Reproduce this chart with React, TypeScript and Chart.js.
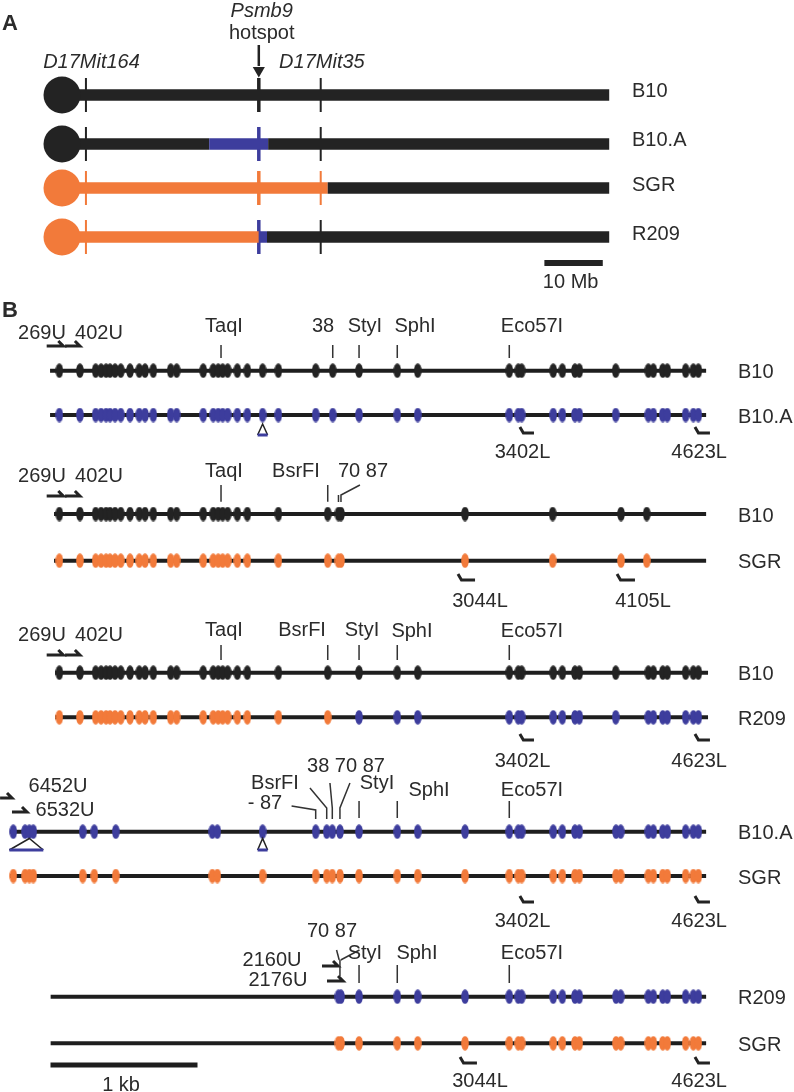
import React, { useEffect, useRef } from "react";
import { Chart, registerables } from "chart.js";
Chart.register(...registerables);

// ================= DATA =================
// ---- Panel A: chromosome 17, positions in Mb ----
const strainsA = ["B10", "B10.A", "SGR", "R209"];
const markerLabels = ["D17Mit164", "D17Mit35"];
const markerMb = [4.1, 44.3];
const hotspotMb = 33.7;
const b10SegA = [{ from: 0, to: 93.7, c: "k" }];
const b10aSegA = [{ from: 0, to: 25.2, c: "k" }, { from: 25.2, to: 35.3, c: "b" }, { from: 35.3, to: 93.7, c: "k" }];
const sgrSegA = [{ from: 0, to: 45.5, c: "o" }, { from: 45.5, to: 93.7, c: "k" }];
const r209SegA = [{ from: 0, to: 33.7, c: "o" }, { from: 33.7, to: 35.1, c: "b" }, { from: 35.1, to: 93.7, c: "k" }];
const centromereColor = ["k", "k", "o", "o"];
const mbScaleBar = [82.6, 92.6];

// ---- Panel B: sequence maps, positions in bp ----
const sitesS1 = [60, 200, 307, 344, 378, 405, 439, 478, 541, 604, 643, 699, 818, 858, 1039, 1107, 1141, 1171, 1205, 1271, 1339, 1443, 1550, 1804, 1920, 2099, 2359, 2498, 3121, 3182, 3205, 3420, 3482, 3568, 3597, 3845, 4067, 4101, 4165, 4196, 4321, 4373, 4407];
const sitesS2 = [60, 200, 307, 344, 378, 405, 439, 478, 541, 604, 643, 699, 818, 858, 1039, 1107, 1141, 1171, 1205, 1271, 1339, 1550, 1886, 1959, 1976, 2820, 3416, 3881, 4056];
const sitesS3 = [60, 200, 307, 344, 378, 405, 439, 478, 541, 604, 643, 699, 818, 858, 1039, 1107, 1141, 1171, 1205, 1271, 1339, 1550, 1886, 2099, 2359, 2498, 3121, 3182, 3205, 3420, 3482, 3568, 3597, 3845, 4067, 4101, 4165, 4196, 4321, 4373, 4407];
const sitesS4 = [-253, -173, -144, -117, 219, 298, 444, 1101, 1135, 1443, 1804, 1879, 1917, 1969, 2099, 2359, 2498, 2820, 3121, 3182, 3205, 3420, 3482, 3568, 3597, 3847, 3879, 4067, 4101, 4165, 4196, 4321, 4373, 4407];
const sitesS5 = [1959, 1976, 2099, 2359, 2498, 2820, 3121, 3182, 3205, 3420, 3482, 3568, 3597, 3847, 3879, 4067, 4101, 4165, 4196, 4321, 4373, 4407];
const lineExtentS1 = [-3, 4460];
const lineExtentS2 = [24, 4460];
const lineExtentS3 = [31, 4473];
const lineExtentS4 = [-275, 4460];
const lineExtentS5 = [1, 4460];
const r209BreakBp = 1990; // R209 row of the 3rd map: SGR-type (orange) before, B10.A-type (blue) after

const enzymeTicksS1 = [1160, 1920, 2099, 2359, 3121];
const enzymeTicksS2 = [1160, 1886];
const enzymeTicksS3 = [1160, 1886, 2099, 2359, 3121];
const enzymeTicksS4 = [2099, 2359, 3121];
const enzymeTicksS5 = [2099, 2359, 3121];

// primers: [name, fromBp, toBp, direction]
const primersS1 = [["269U", -26, 87, "U"], ["402U", 99, 200, "U"], ["3402L", 3193, 3289, "L"], ["4623L", 4384, 4486, "L"]];
const primersS2 = [["269U", -26, 87, "U"], ["402U", 99, 200, "U"], ["3044L", 2772, 2888, "L"], ["4105L", 3854, 3976, "L"]];
const primersS3 = [["269U", -26, 87, "U"], ["402U", 99, 200, "U"], ["3402L", 3193, 3289, "L"], ["4623L", 4384, 4486, "L"]];
const primersS4 = [["6452U", -343, -262, "U"], ["6532U", -262, -160, "U"], ["3402L", 3193, 3289, "L"], ["4623L", 4384, 4486, "L"]];
const primersS5 = [["2160U", 1847, 1956, "U"], ["2176U", 1881, 1990, "U"], ["3044L", 2786, 2901, "L"], ["4623L", 4384, 4486, "L"]];
const kbScaleBar = [0, 1000];

// ================= STYLE / LAYOUT =================
const COLORS: Record<string, string> = { k: "#232323", b: "#3d3d9d", o: "#f27a3a" };
const LINE = "#1e1e1e";
const TEXT = "#2b2b2b";
const FONT = "'Liberation Sans', Arial, sans-serif";
const rowYA = [95, 144, 188, 237];
const W = 794, H = 1092;
const MB_MIN = -62 / 5.84, MB_MAX = (W - 62) / 5.84;
const BP_MIN = -50.5 / 0.147, BP_MAX = (W - 50.5) / 0.147;
const BARB = 34; // bp width of primer barb

const sections = [
  { sites: [sitesS1, sitesS1], rows: [370.7, 415], ext: lineExtentS1, cols: ["k", "b"], ticks: enzymeTicksS1, tickY: [345, 358], primers: primersS1, pY: [346, 433] },
  { sites: [sitesS2, sitesS2], rows: [514, 560.7], ext: lineExtentS2, cols: ["k", "o"], ticks: enzymeTicksS2, tickY: [485, 501.7], primers: primersS2, pY: [496, 580] },
  { sites: [sitesS3, sitesS3], rows: [672.7, 717.3], ext: lineExtentS3, cols: ["k", "r209"], ticks: enzymeTicksS3, tickY: [645, 660], primers: primersS3, pY: [655, 740] },
  { sites: [sitesS4, sitesS4], rows: [831.7, 876], ext: lineExtentS4, cols: ["b", "o"], ticks: enzymeTicksS4, tickY: [801, 818], primers: primersS4, pY: [798, 902] },
  { sites: [sitesS5, sitesS5], rows: [996.7, 1043.3], ext: lineExtentS5, cols: ["b", "o"], ticks: enzymeTicksS5, tickY: [965, 983], primers: primersS5, pY: [966, 1063] },
];
const primerYOverride: Record<string, number> = { "6532U": 812, "2176U": 981 };

const rowLabels = [
  ["B10", 0, 0], ["B10.A", 0, 1], ["B10", 1, 0], ["SGR", 1, 1], ["B10", 2, 0], ["R209", 2, 1],
  ["B10.A", 3, 0], ["SGR", 3, 1], ["R209", 4, 0], ["SGR", 4, 1],
];

const leaders: number[][][] = [
  [[1959, 495], [1959, 502]], [[1976, 502], [1976, 495], [2105, 485]],
  [[1640, 806], [1804, 810], [1804, 819]], [[1765, 788], [1879, 808], [1879, 819]],
  [[1901, 783], [1917, 808], [1917, 819]], [[2037, 783], [1969, 808], [1969, 819]],
  [[1946, 950], [1964, 960]], [[2102, 950], [1974, 960]], [[1969, 960], [1969, 976]],
];
// insertion triangles: [apexBp, halfWidthBp, apexY, baseY]
const insertions = [[1443, 34, 424, 435], [-144, 0, 838.5, 850], [1443, 34, 838.5, 850]];
const bigInsertionBase = [-280, -49];

// text labels: [text, axis, x, y, align, style]
const texts: any[] = [
  ["A", "xa", -8.9, 24, "center", "bold 22px"],
  ["Psmb9", "xa", 34.2, 11, "center", "italic 20px"],
  ["hotspot", "xa", 34.2, 33, "center", "20px"],
  [markerLabels[0], "xa", 5.05, 62, "center", "italic 20px"],
  [markerLabels[1], "xa", 44.5, 62, "center", "italic 20px"],
  ["10 Mb", "xa", 87.1, 282, "center", "20px"],
  ["B", "xa", -8.9, 311, "center", "bold 22px"],
  // map 1
  ["269U", "xb", -58, 333, "center", "20px"], ["402U", "xb", 330, 333, "center", "20px"],
  ["TaqI", "xb", 1180, 326.7, "center", "20px"], ["38", "xb", 1854, 326.7, "center", "20px"],
  ["StyI", "xb", 2139, 326.7, "center", "20px"], ["SphI", "xb", 2480, 326.7, "center", "20px"],
  ["Eco57I", "xb", 3275, 326.7, "center", "20px"],
  ["3402L", "xb", 3211, 452, "center", "20px"], ["4623L", "xb", 4412, 452, "center", "20px"],
  // map 2
  ["269U", "xb", -58, 476.7, "center", "20px"], ["402U", "xb", 330, 476.7, "center", "20px"],
  ["TaqI", "xb", 1180, 471.7, "center", "20px"], ["BsrFI", "xb", 1670, 471.7, "center", "20px"],
  ["70 87", "xb", 2126, 471.7, "center", "20px"],
  ["3044L", "xb", 2922, 601.7, "center", "20px"], ["4105L", "xb", 4031, 601.7, "center", "20px"],
  // map 3
  ["269U", "xb", -58, 635, "center", "20px"], ["402U", "xb", 330, 635, "center", "20px"],
  ["TaqI", "xb", 1180, 630, "center", "20px"], ["BsrFI", "xb", 1711, 630, "center", "20px"],
  ["StyI", "xb", 2119, 630, "center", "20px"], ["SphI", "xb", 2459, 631.7, "center", "20px"],
  ["Eco57I", "xb", 3275, 631.7, "center", "20px"],
  ["3402L", "xb", 3211, 761.7, "center", "20px"], ["4623L", "xb", 4412, 761.7, "center", "20px"],
  // map 4
  ["6452U", "xb", 51, 786, "center", "20px"], ["6532U", "xb", 99, 810, "center", "20px"],
  ["BsrFI", "xb", 1527, 783, "center", "20px"], ["- 87", "xb", 1459, 803, "center", "20px"],
  ["38 70 87", "xb", 2010, 766.7, "center", "20px"], ["StyI", "xb", 2221, 783, "center", "20px"],
  ["SphI", "xb", 2575, 790, "center", "20px"], ["Eco57I", "xb", 3275, 790, "center", "20px"],
  ["3402L", "xb", 3211, 921.7, "center", "20px"], ["4623L", "xb", 4412, 921.7, "center", "20px"],
  // map 5
  ["70 87", "xb", 1915, 931.7, "center", "20px"], ["StyI", "xb", 2139, 953.3, "center", "20px"],
  ["SphI", "xb", 2493, 953, "center", "20px"], ["Eco57I", "xb", 3275, 953, "center", "20px"],
  ["2160U", "xb", 1507, 960, "center", "20px"], ["2176U", "xb", 1547, 980.7, "center", "20px"],
  ["3044L", "xb", 2922, 1081.7, "center", "20px"], ["4623L", "xb", 4412, 1081.7, "center", "20px"],
  ["1 kb", "xb", 480, 1085, "center", "20px"],
];

function ellipseImg(color: string) {
  const c = document.createElement("canvas");
  c.width = 8; c.height = 15;
  const g = c.getContext("2d")!;
  g.fillStyle = color;
  g.beginPath();
  g.ellipse(4, 7.5, 3.8, 7.3, 0, 0, Math.PI * 2);
  g.fill();
  return c;
}

function colorAt(segs: any[], m: number) {
  for (const s of segs) if (m >= s.from && m < s.to) return COLORS[s.c];
  return COLORS.k;
}

function buildDatasets() {
  const imgs: Record<string, HTMLCanvasElement> = { k: ellipseImg(COLORS.k), b: ellipseImg(COLORS.b), o: ellipseImg(COLORS.o) };
  const layers: any[] = [];
  const addLine = (axis: string, pts: number[][], color: string, width: number) =>
    layers.push({
      xAxisID: axis, yAxisID: "y", data: pts.map(([x, y]) => ({ x, y })), showLine: true,
      borderColor: color, backgroundColor: color, borderWidth: width, pointRadius: 0, pointHoverRadius: 0,
      fill: false, tension: 0, borderCapStyle: "butt", borderJoinStyle: "miter",
    });
  const addPoints = (axis: string, pts: number[][], style: any, radius: number, color: string, rotation = 0) =>
    layers.push({
      xAxisID: axis, yAxisID: "y", data: pts.map(([x, y]) => ({ x, y })), showLine: false,
      pointStyle: style, pointRadius: radius, pointHoverRadius: radius, pointRotation: rotation,
      pointBackgroundColor: color, pointBorderColor: color, pointBorderWidth: 0,
      backgroundColor: color, borderColor: color,
    });

  // Panel A
  const segsA = [b10SegA, b10aSegA, sgrSegA, r209SegA];
  segsA.forEach((segs, r) => {
    const y = rowYA[r];
    [markerMb[0], hotspotMb, markerMb[1]].forEach((m) => {
      addLine("xa", [[m, y - 17], [m, y + 17]], colorAt(segs, m), m === hotspotMb ? 3.5 : 2);
    });
    segs.forEach((s) => addLine("xa", [[s.from, y], [s.to, y]], COLORS[s.c], 11.5));
    addPoints("xa", [[0, y]], "circle", 18.5, COLORS[centromereColor[r]]);
  });
  addLine("xa", [[hotspotMb, 45], [hotspotMb, 66]], COLORS.k, 2.5);
  addPoints("xa", [[hotspotMb, 70.5]], "triangle", 7, COLORS.k, 180);
  addLine("xa", [[mbScaleBar[0], 263], [mbScaleBar[1], 263]], COLORS.k, 6);

  // Panel B
  sections.forEach((sec) => {
    sec.ticks.forEach((t) => addLine("xb", [[t, sec.tickY[0]], [t, sec.tickY[1]]], "#333", 1.5));
    sec.rows.forEach((y) => addLine("xb", [[sec.ext[0], y], [sec.ext[1], y]], LINE, 4));
    sec.primers.forEach((p: any) => {
      const [name, a, b, dir] = p;
      const y = primerYOverride[name] ?? (dir === "U" ? sec.pY[0] : sec.pY[1]);
      if (dir === "U") addLine("xb", [[a, y], [b, y], [b - BARB, y - 5]], COLORS.k, 3);
      else addLine("xb", [[a, y - 6], [a + BARB * 0.7, y], [b, y]], COLORS.k, 3);
    });
    sec.rows.forEach((y, i) => {
      const col = sec.cols[i];
      const sites = sec.sites[i];
      if (col === "r209") {
        addPoints("xb", sites.filter((s) => s < r209BreakBp).map((s) => [s, y]), imgs.o, 4, COLORS.o);
        addPoints("xb", sites.filter((s) => s >= r209BreakBp).map((s) => [s, y]), imgs.b, 4, COLORS.b);
      } else {
        addPoints("xb", sites.map((s) => [s, y]), imgs[col], 4, COLORS[col]);
      }
    });
  });
  leaders.forEach((pts) => addLine("xb", pts, "#333", 1.5));
  insertions.forEach(([apex, hw, ay, by], i) => {
    const l = i === 1 ? bigInsertionBase[0] : apex - hw;
    const r = i === 1 ? bigInsertionBase[1] : apex + hw;
    addLine("xb", [[l, by], [apex, ay], [r, by]], COLORS.k, 1.5);
    addLine("xb", [[l, by], [r, by]], COLORS.b, 3);
  });
  addLine("xb", [[kbScaleBar[0], 1065], [kbScaleBar[1], 1065]], LINE, 5);

  return layers.map((d, i) => ({ ...d, order: -i }));
}

const textPlugin = {
  id: "texts",
  afterDatasetsDraw(chart: any) {
    const ctx = chart.ctx;
    ctx.save();
    ctx.fillStyle = TEXT;
    ctx.textBaseline = "middle";
    texts.forEach(([t, axis, x, y, align, style]) => {
      ctx.font = `${style} ${FONT}`;
      ctx.textAlign = align;
      ctx.fillText(t, chart.scales[axis].getPixelForValue(x), chart.scales.y.getPixelForValue(y));
    });
    ctx.font = `20px ${FONT}`;
    ctx.textAlign = "left";
    strainsA.forEach((s, i) => {
      ctx.fillText(s, chart.scales.xa.getPixelForValue(97.6), chart.scales.y.getPixelForValue(rowYA[i] - 4 + (i >= 2 ? 1 : 0)));
    });
    rowLabels.forEach(([s, si, ri]: any) => {
      ctx.fillText(s, chart.scales.xb.getPixelForValue(4677), chart.scales.y.getPixelForValue(sections[si].rows[ri] + 2));
    });
    ctx.restore();
  },
};

export default function App() {
  const ref = useRef<HTMLCanvasElement | null>(null);
  useEffect(() => {
    if (!ref.current) return;
    const chart = new Chart(ref.current, {
      type: "scatter",
      data: { datasets: buildDatasets() },
      options: {
        animation: false,
        responsive: false,
        maintainAspectRatio: false,
        devicePixelRatio: 1,
        layout: { padding: 0, autoPadding: false },
        events: [],
        plugins: { legend: { display: false }, tooltip: { enabled: false } },
        scales: {
          xa: { type: "linear", display: false, min: MB_MIN, max: MB_MAX },
          xb: { type: "linear", display: false, min: BP_MIN, max: BP_MAX },
          y: { type: "linear", display: false, min: 0, max: H, reverse: true },
        },
      } as any,
      plugins: [textPlugin],
    });
    return () => chart.destroy();
  }, []);
  return (
    <div style={{ position: "absolute", left: 0, top: 0, width: W, height: H, background: "#fff" }}>
      <canvas ref={ref} width={W} height={H} style={{ display: "block", width: W, height: H }} />
    </div>
  );
}
